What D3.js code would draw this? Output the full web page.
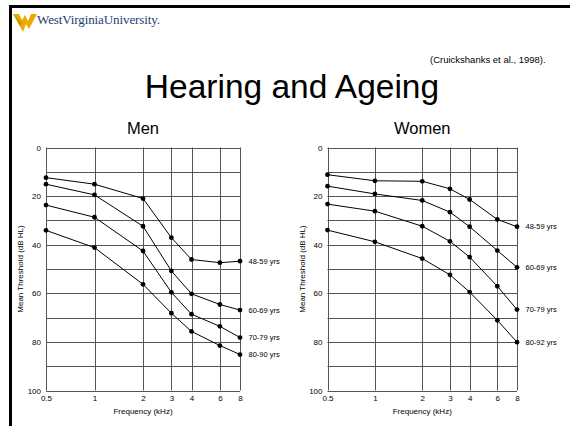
<!DOCTYPE html>
<html>
<head>
<meta charset="utf-8">
<script src="https://cdn.jsdelivr.net/npm/d3@7"></script>
<style>
  body { margin: 0; background: #fff; }
  svg { display: block; font-family: "Liberation Sans", Arial, sans-serif; }
</style>
</head>
<body>
<div id="chart"></div>
<script>
// data (Cruickshanks et al., 1998)
const freqs = [0.5, 1, 2, 3, 4, 6, 8];
const xTickLabels = ["0.5", "1", "2", "3", "4", "6", "8"];
const yTicks = [0, 20, 40, 60, 80, 100];
const yGrid = [0, 10, 20, 30, 40, 50, 60, 70, 80, 90, 100];

const menAges = ["48-59 yrs", "60-69 yrs", "70-79 yrs", "80-90 yrs"];
const men4859 = [12.4, 15.1, 21.0, 37.1, 46.1, 47.4, 46.8];
const men6069 = [15.1, 19.5, 32.4, 50.8, 60.2, 64.6, 66.9];
const men7079 = [23.7, 28.7, 42.6, 59.6, 68.6, 73.6, 78.2];
const men8090 = [34.1, 41.2, 56.3, 68.2, 75.7, 81.5, 85.2];

const womenAges = ["48-59 yrs", "60-69 yrs", "70-79 yrs", "80-92 yrs"];
const women4859 = [11.2, 13.7, 13.9, 17.0, 21.4, 29.6, 32.6];
const women6069 = [15.9, 19.1, 21.8, 26.6, 32.6, 42.4, 49.3];
const women7079 = [23.3, 26.2, 32.4, 38.6, 45.1, 57.1, 66.7];
const women8092 = [34.0, 38.8, 45.7, 52.4, 59.5, 71.1, 80.1];

const W = 570, H = 426;

let svg = d3.select("#chart")
            .append("svg")
                .attr("width", W)
                .attr("height", H);

// slide frame
svg.append("line").attr("x1", 9).attr("x2", W).attr("y1", 6.5).attr("y2", 6.5)
    .attr("stroke", "#000").attr("stroke-width", 3);
svg.append("line").attr("x1", 10.5).attr("x2", 10.5).attr("y1", 5).attr("y2", H)
    .attr("stroke", "#000").attr("stroke-width", 3);

// logo
let logo = svg.append("g").attr("transform", "translate(0,2)");
logo.append("path")
    .attr("d", "M13,12 L19,12 L22,18 L25,13 L28,19 L31,12 L37,12 L29,27 L26,22 L23,30 Z")
    .attr("fill", "#eaaa00");
logo.append("path")
    .attr("d", "M14,13 L20,24 L22,21 Z")
    .attr("fill", "#c89200");
svg.append("text")
    .attr("x", 37).attr("y", 24)
    .attr("font-family", "'Liberation Serif', 'DejaVu Serif', serif")
    .attr("font-size", 13)
    .attr("letter-spacing", -0.1)
    .attr("fill", "#1e3d74")
    .text("WestVirginiaUniversity.");

// titles
svg.append("text").attr("x", 292).attr("y", 98)
    .attr("text-anchor", "middle").attr("font-size", 33.5)
    .text("Hearing and Ageing");
svg.append("text").attr("x", 430).attr("y", 63)
    .attr("font-size", 9.5).text("(Cruickshanks et al., 1998).");

function panel(title, x0, x1, ages, series) {

    let x = d3.scaleLog().domain([0.5, 8]).range([x0, x1]);
    let y = d3.scaleLinear().domain([0, 100]).range([147.5, 390.5]);
    let g = svg.append("g");

    g.append("text").attr("x", (x0 + x1) / 2).attr("y", 134)
        .attr("text-anchor", "middle").attr("font-size", 16.5)
        .text(title);

    // grid
    g.selectAll(".hgrid").data(yGrid).enter()
        .append("line")
            .attr("x1", x0).attr("x2", x1)
            .attr("y1", d => Math.round(y(d)) + 0.5)
            .attr("y2", d => Math.round(y(d)) + 0.5)
            .attr("stroke", "#555").attr("stroke-width", 1);
    g.selectAll(".vgrid").data(freqs).enter()
        .append("line")
            .attr("x1", d => Math.round(x(d)) + 0.5)
            .attr("x2", d => Math.round(x(d)) + 0.5)
            .attr("y1", y(0)).attr("y2", y(100))
            .attr("stroke", "#555").attr("stroke-width", 1);

    // axes (labels only)
    let yAxis = d3.axisLeft(y).tickValues(yTicks).tickSize(0).tickPadding(5);
    let ya = g.append("g").attr("transform", "translate(" + x0 + ",0)").call(yAxis);
    let xAxis = d3.axisBottom(x).tickValues(freqs).tickSize(0).tickPadding(5)
        .tickFormat((d, i) => xTickLabels[i]);
    let xa = g.append("g").attr("transform", "translate(0," + y(100) + ")").call(xAxis);
    [ya, xa].forEach(a => {
        a.select(".domain").remove();
        a.selectAll("text").attr("font-size", 8).attr("fill", "#000")
            .attr("font-family", "'Liberation Sans', Arial, sans-serif");
    });

    g.append("text").attr("x", (x0 + x1) / 2).attr("y", 414)
        .attr("text-anchor", "middle").attr("font-size", 8)
        .text("Frequency (kHz)");
    g.append("text")
        .attr("transform", "translate(" + (x0 - 23) + "," + ((y(0) + y(100)) / 2) + ") rotate(-90)")
        .attr("text-anchor", "middle").attr("font-size", 8)
        .text("Mean Threshold (dB HL)");

    let line = d3.line().x((d, i) => x(freqs[i])).y(d => y(d));

    series.forEach((s, k) => {
        g.append("path").datum(s)
            .attr("d", line)
            .attr("fill", "none").attr("stroke", "#000").attr("stroke-width", 1);
        g.selectAll(".dot" + k).data(s).enter()
            .append("circle")
                .attr("cx", (d, i) => x(freqs[i]))
                .attr("cy", d => y(d))
                .attr("r", 2.4)
                .attr("fill", "#000");
        g.append("text")
            .attr("x", x1 + 8.5).attr("y", y(s[s.length - 1]))
            .attr("dy", "0.35em").attr("font-size", 7.5)
            .text(ages[k]);
    });
}

panel("Men", 46, 240, menAges, [men4859, men6069, men7079, men8090]);
panel("Women", 327.5, 517, womenAges, [women4859, women6069, women7079, women8092]);
</script>
</body>
</html>
